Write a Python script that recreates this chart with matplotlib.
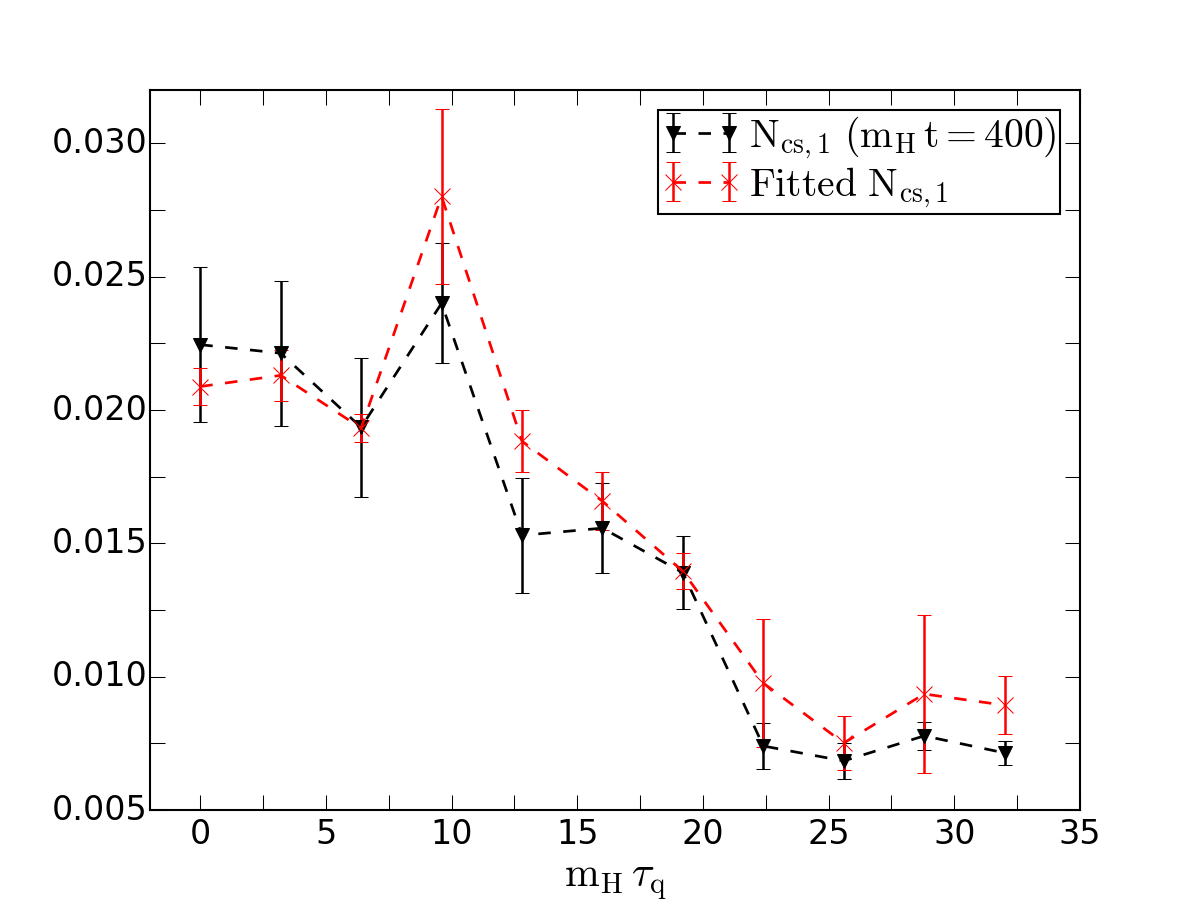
import matplotlib

matplotlib.use("Agg")
import matplotlib.pyplot as plt
from matplotlib.ticker import MultipleLocator

plt.style.use("classic")
plt.rcParams["mathtext.fontset"] = "cm"

# data
tau = [0, 3.2, 6.4, 9.6, 12.8, 16, 19.2, 22.4, 25.6, 28.8, 32]
ncs = [0.02245, 0.02213, 0.01935, 0.02400, 0.01530, 0.01557, 0.01390, 0.00740, 0.00684, 0.00778, 0.00714]
ncs_err = [0.00290, 0.00272, 0.00260, 0.00225, 0.00215, 0.00170, 0.00137, 0.00086, 0.00068, 0.00053, 0.00045]
fit = [0.02088, 0.02130, 0.01932, 0.02801, 0.01883, 0.01658, 0.01395, 0.00976, 0.00751, 0.00935, 0.00893]
fit_err = [0.00068, 0.00095, 0.00053, 0.00328, 0.00117, 0.00109, 0.00067, 0.00240, 0.00101, 0.00298, 0.00109]

fig, ax = plt.subplots(figsize=(8, 6))
ax.errorbar(tau, ncs, yerr=ncs_err, fmt="v--", color="k", ecolor="k",
            lw=1.3, elinewidth=1.2, markersize=7, capsize=3.5,
            label=r"$\mathrm{N_{cs,1}\ (m_H\, t=400)}$")
ax.errorbar(tau, fit, yerr=fit_err, fmt="x--", color="r", ecolor="r", mec="r",
            lw=1.3, elinewidth=1.2, markersize=8, capsize=3.5,
            label=r"$\mathrm{Fitted\ N_{cs,1}}$")

ax.set_xlim(-2, 35)
ax.set_ylim(0.005, 0.032)
ax.xaxis.set_major_locator(MultipleLocator(5))
ax.xaxis.set_minor_locator(MultipleLocator(2.5))
ax.yaxis.set_major_locator(MultipleLocator(0.005))
ax.yaxis.set_minor_locator(MultipleLocator(0.0025))
ax.tick_params(which="both", length=7, labelsize=16)
ax.tick_params(axis="y", pad=1)
ax.set_xlabel(r"$\mathrm{m_H}\,\tau_\mathrm{q}$", fontsize=20, labelpad=4)
ax.legend(loc="upper right", prop={"size": 19}, borderpad=0.1,
          handletextpad=0.2, labelspacing=0.1, borderaxespad=0.5)

fig.savefig("out.png", dpi=150)
